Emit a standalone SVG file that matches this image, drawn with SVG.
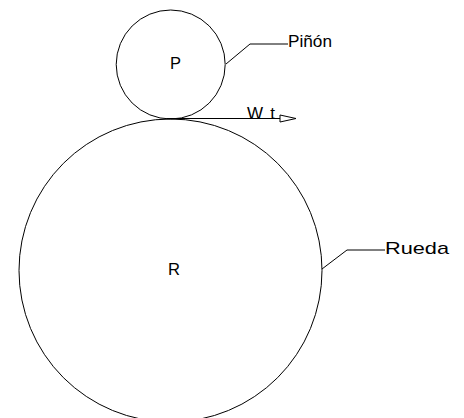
<svg xmlns="http://www.w3.org/2000/svg" width="464" height="418" viewBox="0 0 464 418">
<style>
.ln{fill:none;stroke:#000;stroke-width:1}
.tx{font-family:"Liberation Sans",Arial,sans-serif;font-size:17px;fill:#000}
</style>
<rect width="464" height="418" fill="#fff"/>
<g id="pinon">
<circle class="ln" cx="170.7" cy="64.5" r="54.5"/>
<text class="tx" x="170" y="69" textLength="11" lengthAdjust="spacingAndGlyphs">P</text>
</g>
<g id="rueda">
<circle class="ln" cx="170.5" cy="270.5" r="151.5"/>
<text class="tx" x="168" y="275" textLength="12" lengthAdjust="spacingAndGlyphs">R</text>
</g>
<g id="label-pinon">
<text class="tx" x="288" y="47" textLength="44" lengthAdjust="spacingAndGlyphs">Piñón</text>
</g>
<g id="label-rueda">
<text class="tx" x="385" y="254" textLength="64" lengthAdjust="spacingAndGlyphs">Rueda</text>
</g>
<g id="label-wt">
<text class="tx" x="247" y="119" textLength="28" lengthAdjust="spacing">Wt</text>
</g>
<g id="connectors">
<polyline class="ln" points="226,64 250,44 288,44"/>
<polyline class="ln" points="322,269 347,250 385,250"/>
<line class="ln" x1="167" y1="118.5" x2="280" y2="118.5"/>
<polygon class="ln" points="280,115 296,118.5 280,122"/>
</g>
</svg>
